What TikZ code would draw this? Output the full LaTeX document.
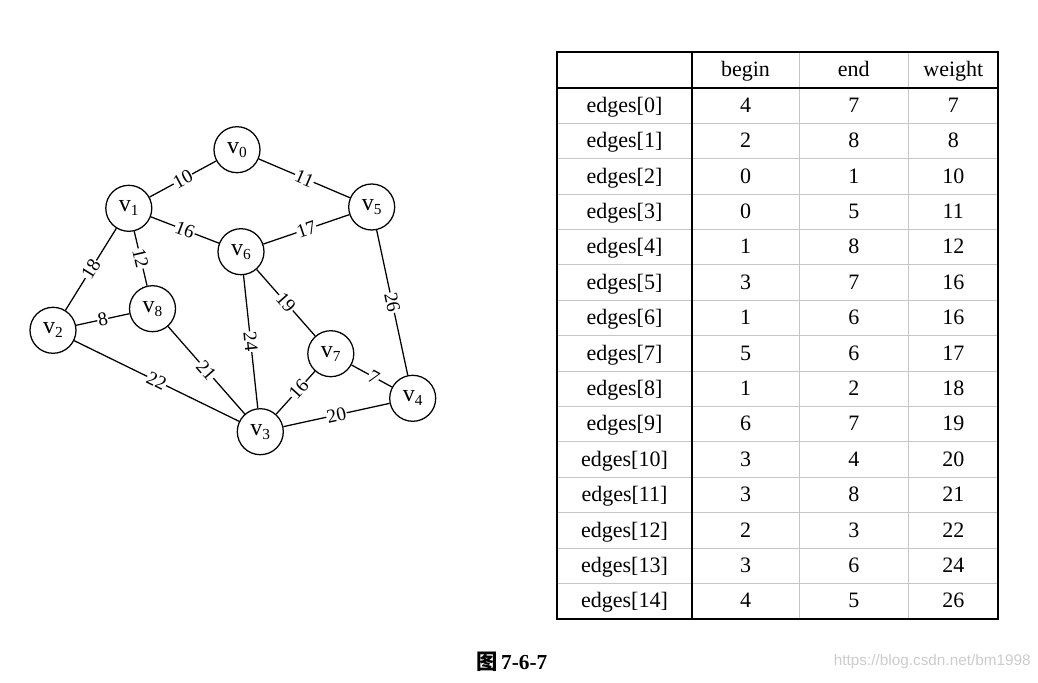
\documentclass[tikz,border=0pt]{standalone}
\usepackage{fontspec}
\setmainfont{Liberation Serif}
\newfontfamily\cjkfont{Noto Sans CJK SC}
\newfontfamily\wmfont{Liberation Sans}
\newcommand\vlab[1]{v\raisebox{-2.8pt}{\fontsize{11.5}{11.5}\selectfont #1}}
\begin{document}
\begin{tikzpicture}[x=0.75pt,y=-0.75pt,
  vert/.style={circle, draw, line width=0.95pt, minimum size=34.5pt, inner sep=0pt, fill=white,
    font=\fontsize{18}{18}\selectfont},
  edgeline/.style={line width=0.95pt},
  wlab/.style={sloped, fill=white, inner sep=0.5pt, font=\fontsize{14.5}{14.5}\selectfont},
  cell/.style={font=\fontsize{16.5}{16.5}\selectfont, text height=0.72em, text depth=0.2em, inner sep=0pt, yshift=-2.5pt},
  thickrule/.style={line width=1.4pt},
  thinrule/.style={line width=0.6pt, gray!45}]
\useasboundingbox (0,0) rectangle (1038,682);

% ---------- graph ----------
\node[vert] (v0) at (237,149.7) {\vlab{0}};
\node[vert] (v1) at (128.8,208.3) {\vlab{1}};
\node[vert] (v5) at (371.7,207) {\vlab{5}};
\node[vert] (v6) at (241,251.7) {\vlab{6}};
\node[vert] (v8) at (152.5,308.7) {\vlab{8}};
\node[vert] (v2) at (53,330.3) {\vlab{2}};
\node[vert] (v7) at (330.8,353.7) {\vlab{7}};
\node[vert] (v4) at (412.7,398.3) {\vlab{4}};
\node[vert] (v3) at (260.3,431.7) {\vlab{3}};

\draw[edgeline] (v0) -- node[wlab] {10} (v1);
\draw[edgeline] (v0) -- node[wlab] {11} (v5);
\draw[edgeline] (v1) -- node[wlab] {16} (v6);
\draw[edgeline] (v6) -- node[wlab] {17} (v5);
\draw[edgeline] (v1) -- node[wlab] {18} (v2);
\draw[edgeline] (v1) -- node[wlab] {12} (v8);
\draw[edgeline] (v2) -- node[wlab] {8} (v8);
\draw[edgeline] (v2) -- node[wlab] {22} (v3);
\draw[edgeline] (v8) -- node[wlab] {21} (v3);
\draw[edgeline] (v6) -- node[wlab] {24} (v3);
\draw[edgeline] (v6) -- node[wlab] {19} (v7);
\draw[edgeline] (v7) -- node[wlab, pos=0.42] {16} (v3);
\draw[edgeline] (v7) -- node[wlab, pos=0.55] {7} (v4);
\draw[edgeline] (v3) -- node[wlab] {20} (v4);
\draw[edgeline] (v5) -- node[wlab] {26} (v4);

% ---------- table ----------
\foreach \k in {2,...,15}
  \draw[thinrule] (557.3,{52.3+35.4*\k}) -- (998.3,{52.3+35.4*\k});
\foreach \x in {799.3,908.3}
  \draw[thinrule] (\x,52.3) -- (\x,618.7);
\draw[thickrule] (557.3,52.3) rectangle (998.3,618.7);
\draw[thickrule] (691.7,52.3) -- (691.7,618.7);
\draw[thickrule] (557.3,87.7) -- (998.3,87.7);

\node[cell] (hb) at (745.5,70) {begin};
\node[cell] (he) at (853.8,70) {end};
\node[cell] (hw) at (953.3,70) {weight};

\foreach \i/\b/\e/\w in {0/4/7/7, 1/2/8/8, 2/0/1/10, 3/0/5/11, 4/1/8/12, 5/3/7/16,
    6/1/6/16, 7/5/6/17, 8/1/2/18, 9/6/7/19, 10/3/4/20, 11/3/8/21, 12/2/3/22,
    13/3/6/24, 14/4/5/26} {
  \pgfmathsetmacro\yc{52.3+35.4*(\i+1.5)}
  \node[cell] (n\i) at (624.5,\yc) {edges[\i]};
  \node[cell] (b\i) at (745.5,\yc) {\b};
  \node[cell] (e\i) at (853.8,\yc) {\e};
  \node[cell] (w\i) at (953.3,\yc) {\w};
}

% ---------- caption ----------
\node[font=\fontsize{16}{16}\selectfont, anchor=west, inner sep=0pt] (cap) at (476,662)
  {{\cjkfont\bfseries 图}\,\textbf{7-6-7}};
\node[font=\wmfont\fontsize{11.5}{11.5}\selectfont, text=gray!40, anchor=east, inner sep=0pt] (wm)
  at (1031,662) {https://blog.csdn.net/bm1998};
\end{tikzpicture}
\end{document}
